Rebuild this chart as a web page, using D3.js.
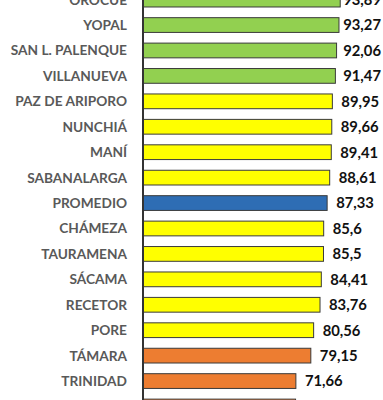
<!DOCTYPE html>
<html><head><meta charset="utf-8">
<script src="https://cdn.jsdelivr.net/npm/d3@7"></script>
<style>
html,body{margin:0;padding:0;background:#fff;}
svg{display:block;}
</style></head>
<body>
<svg id="chart" width="383" height="400"></svg>
<script>
const categories = ["OROCUÉ","YOPAL","SAN L. PALENQUE","VILLANUEVA","PAZ DE ARIPORO","NUNCHIÁ","MANÍ","SABANALARGA","PROMEDIO","CHÁMEZA","TAURAMENA","SÁCAMA","RECETOR","PORE","TÁMARA","TRINIDAD","HATO COROZAL"];
const values = [93.89,93.27,92.06,91.47,89.95,89.66,89.41,88.61,87.33,85.6,85.5,84.41,83.76,80.56,79.15,71.66,71.5];
const groups = ["alto","alto","alto","alto","medio","medio","medio","medio","promedio","medio","medio","medio","medio","medio","bajo","bajo","bajo"];
const valueLabels = ["93,89","93,27","92,06","91,47","89,95","89,66","89,41","88,61","87,33","85,6","85,5","84,41","83,76","80,56","79,15","71,66","71,5"];

const colorScale = d3.scaleOrdinal()
  .domain(["alto","medio","promedio","bajo"])
  .range(["#92D050","#FFFF00","#2E6DB4","#ED7D31"]);

const svg = d3.select("#chart");
const x = d3.scaleLinear().domain([-5, 100]).range([143, 352.4]);
const y = d3.scaleBand().domain(categories).range([-13.1, -13.1 + 17*25.43]).paddingInner(0.42).paddingOuter(0.21);

const rows = svg.selectAll("g.row").data(categories).join("g").attr("class","row");

rows.append("rect")
  .attr("x", x(-5))
  .attr("y", d => y(d))
  .attr("width", (d,i) => x(values[i]) - x(-5))
  .attr("height", y.bandwidth())
  .attr("fill", (d,i) => colorScale(groups[i]))
  .attr("stroke", "#3a3a3a")
  .attr("stroke-width", 1);

rows.append("text")
  .attr("x", 127)
  .attr("y", d => y(d) + y.bandwidth()/2)
  .attr("dy", "0.36em")
  .attr("text-anchor", "end")
  .attr("font-family", "Lato, 'Open Sans', sans-serif")
  .attr("font-weight", "bold")
  .attr("font-size", 13.7)
  .attr("fill", "#595959")
  .text(d => d);

rows.append("text")
  .attr("class","val")
  .attr("y", d => y(d) + y.bandwidth()/2)
  .attr("dy", "0.36em")
  .attr("font-family", "Lato, 'Open Sans', sans-serif")
  .attr("font-weight", "bold")
  .attr("font-size", 14.8)
  .attr("fill", "#111")
  .text((d,i) => valueLabels[i])
  .each(function(d,i){
    const w = this.getComputedTextLength();
    let xs = x(values[i]) + 9;
    if (xs + w > 381) xs = 381 - w;
    d3.select(this).attr("x", xs);
  });

// vertical axis line
svg.append("line")
  .attr("x1", x(-5)).attr("x2", x(-5))
  .attr("y1", 0).attr("y2", 400)
  .attr("stroke", "#333").attr("stroke-width", 2);
</script>
</body></html>
